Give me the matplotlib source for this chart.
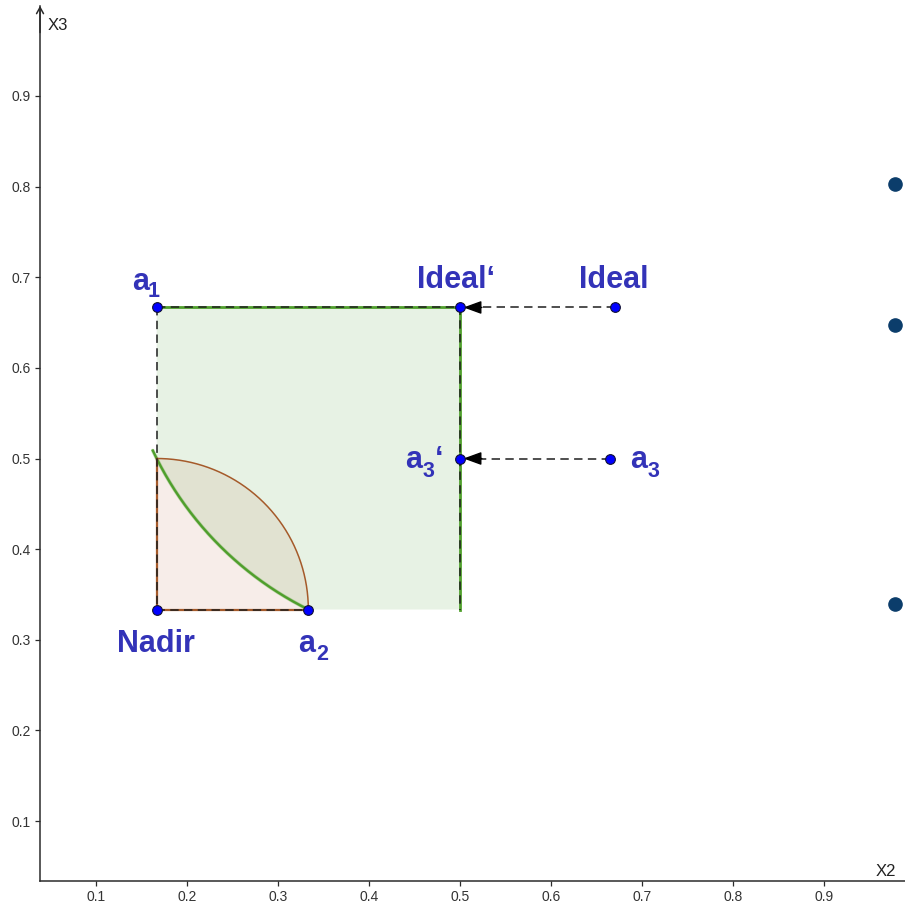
import numpy as np
import matplotlib.pyplot as plt

plt.rcParams['font.family'] = ['Liberation Sans', 'DejaVu Sans']

# points in the (X2, X3) plane
nadir = (1/6, 1/3)
a1 = (1/6, 2/3)
a2 = (1/3, 1/3)
a3 = (0.665, 0.5)
ideal = (0.67, 2/3)
ideal_p = (0.5, 2/3)
a3_p = (0.5, 0.5)
corner = (0.5, 1/3)

# partly visible points at the right border
side_x = [0.978, 0.978, 0.978]
side_y = [0.803, 0.647, 0.34]

tick_vals = [0.1, 0.2, 0.3, 0.4, 0.5, 0.6, 0.7, 0.8, 0.9]
tick_labels = ['0.1', '0.2', '0.3', '0.4', '0.5', '0.6', '0.7', '0.8', '0.9']

# label pieces: anchor point, text, offset of baseline centre (px), size
label_parts = [
    (a1, 'a', (-16.5, 17), 22), (a1, '1', (-3, 10), 15.5),
    (a2, 'a', (-2, -42), 22), (a2, '2', (14, -50), 15.5),
    (a3, 'a', (28.5, -9), 22), (a3, '3', (43.5, -18), 15.5),
    (a3_p, 'a', (-46, -9), 22), (a3_p, '3', (-32, -18), 15.5),
    (a3_p, '\u2018', (-21, -9), 22),
    (nadir, 'Nadir', (-1, -42), 22),
    (ideal, 'Ideal', (-0.5, 19), 22),
    (ideal_p, 'Ideal\u2018', (-4, 19), 22),
]

xlim = (-0.00549, 0.98901)
ylim = (0.00621, 1.00593)
axis_x, axis_y = 0.0385, 0.0338

GREEN = '#4f9f2c'
BROWN = '#a55a2a'
LABEL = '#3333b8'
AXC = '#2b2b2b'

fig = plt.figure(figsize=(9.05, 9.06), dpi=100)
ax = fig.add_axes([0, 0, 1, 1])
ax.set_xlim(*xlim)
ax.set_ylim(*ylim)

# axes drawn GeoGebra style
for s in ['top', 'right']:
    ax.spines[s].set_visible(False)
ax.spines['left'].set_position(('data', axis_x))
ax.spines['bottom'].set_position(('data', axis_y))
ax.spines['left'].set_bounds(axis_y, 0.9995)
ax.spines['bottom'].set_bounds(axis_x, xlim[1])
for s in ['left', 'bottom']:
    ax.spines[s].set_color(AXC)
    ax.spines[s].set_linewidth(1.1)
ax.set_xticks(tick_vals, tick_labels)
ax.set_yticks(tick_vals, tick_labels)
ax.tick_params(direction='out', length=3.6, width=0.9, color=AXC,
               labelsize=10, labelcolor='#333333', pad=3)
ax.annotate('', xy=(axis_x, 0.9995), xytext=(axis_x, 0.97),
            arrowprops=dict(arrowstyle='->,head_length=0.45,head_width=0.25',
                            lw=1.1, color=AXC, shrinkA=0, shrinkB=0))
ax.text(0.0582, 0.978, 'X3', fontsize=12, color='#222222', ha='center', va='center')
ax.text(0.968, 0.0448, 'X2', fontsize=12, color='#222222', ha='center', va='center')

# green arc: circle around Ideal' through a2 and (Nadir_x, 0.5)
r_g = np.hypot(ideal_p[0] - a2[0], ideal_p[1] - a2[1])
th_end = np.arctan2(a2[1] - ideal_p[1], a2[0] - ideal_p[0]) % (2 * np.pi)
th_top = np.arctan2(0.5 - ideal_p[1], nadir[0] - ideal_p[0]) % (2 * np.pi)
th = np.linspace(th_top, th_end, 200)
gx = ideal_p[0] + r_g * np.cos(th)
gy = ideal_p[1] + r_g * np.sin(th)
th_ext = np.linspace(th_top - np.radians(1.5), th_end, 200)
gx_ext = ideal_p[0] + r_g * np.cos(th_ext)
gy_ext = ideal_p[1] + r_g * np.sin(th_ext)

# brown quarter circle around Nadir
r_b = a2[0] - nadir[0]
tb = np.linspace(0, np.pi / 2, 200)
bx = nadir[0] + r_b * np.cos(tb)
by = nadir[1] + r_b * np.sin(tb)

# fills
px = np.concatenate([[nadir[0]], bx, [nadir[0]]])
py = np.concatenate([[nadir[1]], by, [nadir[1]]])
ax.fill(px, py, color=(0.78, 0.5, 0.4), alpha=0.14, lw=0, zorder=1)
fx = np.concatenate([[a1[0], ideal_p[0], corner[0]], gx[::-1]])
fy = np.concatenate([[a1[1], ideal_p[1], corner[1]], gy[::-1]])
ax.fill(fx, fy, color=(0.3, 0.62, 0.2), alpha=0.13, lw=0, zorder=1)

# outlines
ax.plot(gx_ext, gy_ext, color=GREEN, lw=2.6, alpha=0.35, zorder=2, solid_capstyle='round')
ax.plot(gx_ext, gy_ext, color=GREEN, lw=1.7, zorder=2)
ax.plot(bx, by, color=BROWN, lw=1.1, zorder=2)
ax.plot([a1[0], ideal_p[0], corner[0]], [a1[1], ideal_p[1], corner[1] - 0.001],
        color=GREEN, lw=2.0, zorder=2)
ax.plot([nadir[0], nadir[0]], [0.5, nadir[1]], color=BROWN, lw=1.6, zorder=2)
ax.plot([nadir[0], a2[0]], [nadir[1], a2[1]], color=BROWN, lw=1.6, zorder=2)

dash = dict(color='#1e1e1e', lw=1.1, dashes=(5.5, 3.5), zorder=3)
ax.plot([a1[0], ideal_p[0], corner[0]], [a1[1], ideal_p[1], corner[1] - 0.001], **dash)
ax.plot([a1[0], nadir[0], a2[0]], [a1[1], nadir[1], a2[1]], **dash)

# projections with arrows
for src, dst in [(ideal, ideal_p), (a3, a3_p)]:
    ax.plot([src[0], dst[0] + 0.02], [src[1], dst[1]], **dash)
    ax.annotate('', xy=dst, xytext=(dst[0] + 0.024, dst[1]),
                arrowprops=dict(arrowstyle='-|>,head_length=1.1,head_width=0.4',
                                color='black', lw=1.0, shrinkA=0, shrinkB=2.5),
                zorder=4)

# points
pts = [a1, a2, a3, nadir, ideal, ideal_p, a3_p]
ax.plot([p[0] for p in pts], [p[1] for p in pts], 'o', ms=7, mfc='#0000ff',
        mec='#111133', mew=0.8, zorder=5, clip_on=False)
ax.plot(side_x, side_y, 'o', ms=9.5, color='#0b3d6b', zorder=5)

for p, txt, off, size in label_parts:
    ax.annotate(txt, xy=p, xytext=off, textcoords='offset pixels',
                ha='center', va='baseline', fontsize=size, fontweight='bold',
                color=LABEL, zorder=6)

fig.savefig('out.png', dpi=100)
